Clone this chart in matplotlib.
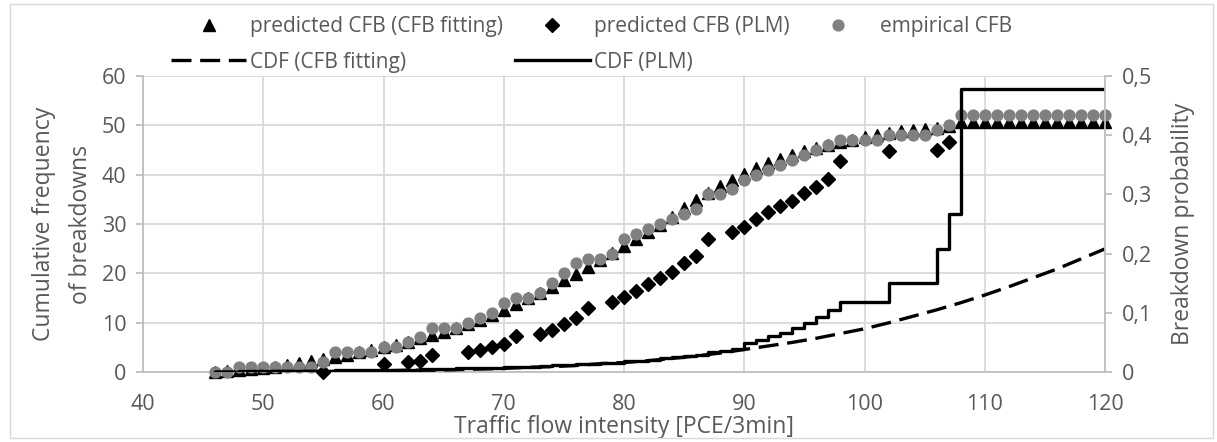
import matplotlib
matplotlib.use("Agg")
import matplotlib.pyplot as plt
from matplotlib.patches import Rectangle
from matplotlib.ticker import FixedLocator, FuncFormatter

# Traffic flow intensity [PCE/3min]
flow = list(range(46, 121))

# empirical cumulative frequency of breakdowns (integer counts)
empirical_cfb = [0, 0, 1, 1, 1, 1, 1, 1, 1, 2, 4, 4, 4, 4, 5, 5, 6, 7, 9, 9,
                 9, 10, 11, 12, 14, 15, 15, 16, 18, 20, 22, 23, 23, 24, 27, 28, 29, 30, 31, 32,
                 33, 36, 36, 37, 39, 40, 41, 42, 43, 44, 45, 46, 47, 47, 47, 47, 48, 48, 48, 48,
                 49, 50, 52, 52, 52, 52, 52, 52, 52, 52, 52, 52, 52, 52, 52]

# predicted cumulative frequency, CFB fitting
predicted_fit = [0.0, 0.2, 0.4, 0.6, 0.8, 1.1, 1.5, 1.9, 2.3, 2.7, 3.1, 3.5, 4.0, 4.5, 5.0, 5.5, 6.1, 6.8, 7.4, 8.1,
                 8.9, 9.7, 10.6, 11.5, 12.6, 13.7, 14.9, 16.0, 17.3, 18.6, 19.9, 21.3, 22.7, 24.1, 25.6, 27.0, 28.4, 29.8, 31.4, 33.2,
                 34.8, 36.2, 37.7, 38.9, 40.2, 41.3, 42.3, 43.1, 43.9, 44.7, 45.4, 46.0, 46.6, 47.1, 47.6, 48.1, 48.5, 48.8, 49.0, 49.2,
                 49.4, 49.8, 50.6, 50.6, 50.6, 50.6, 50.6, 50.6, 50.6, 50.6, 50.6, 50.6, 50.6, 50.6, 50.6]

# predicted cumulative frequency, PLM (only at observed flow values)
plm_flow = [55, 60, 62, 63, 64, 67, 68, 69, 70, 71, 73, 74, 75, 76, 77, 79, 80, 81, 82, 83,
            84, 85, 86, 87, 89, 90, 91, 92, 93, 94, 95, 96, 97, 98, 102, 106, 107]
predicted_plm = [0.0, 1.6, 2.0, 2.2, 3.5, 4.0, 4.5, 5.1, 5.6, 7.2, 7.8, 8.5, 9.7, 10.9, 12.9, 14.1, 15.3, 16.5, 17.8, 19.1,
                 20.3, 22.0, 23.6, 27.0, 28.3, 29.3, 31.0, 32.4, 33.7, 34.7, 36.2, 37.5, 39.1, 42.8, 44.7, 45.1, 46.7]

# CDF of the CFB fitting model
cdf_fit_flow = list(range(46, 121, 2))
cdf_fit = [0.000, 0.000, 0.001, 0.001, 0.001, 0.001, 0.002, 0.002, 0.003, 0.003,
           0.004, 0.005, 0.006, 0.008, 0.009, 0.011, 0.014, 0.016, 0.019, 0.023,
           0.027, 0.032, 0.038, 0.044, 0.050, 0.057, 0.065, 0.073, 0.083, 0.094,
           0.105, 0.117, 0.130, 0.144, 0.159, 0.174, 0.191, 0.208]

# CDF of the PLM (product limit method), step function
cdf_plm = [0.000, 0.000, 0.001, 0.001, 0.001, 0.001, 0.001, 0.002, 0.002, 0.002,
           0.003, 0.003, 0.003, 0.003, 0.004, 0.004, 0.004, 0.005, 0.005, 0.005,
           0.006, 0.006, 0.007, 0.007, 0.008, 0.008, 0.009, 0.010, 0.011, 0.012,
           0.013, 0.014, 0.015, 0.016, 0.018, 0.019, 0.021, 0.023, 0.025, 0.027,
           0.029, 0.034, 0.035, 0.039, 0.049, 0.054, 0.060, 0.066, 0.074, 0.083,
           0.093, 0.104, 0.118, 0.118, 0.118, 0.118, 0.151, 0.151, 0.151, 0.151,
           0.208, 0.267, 0.4775, 0.4775, 0.4775, 0.4775, 0.4775, 0.4775, 0.4775, 0.4775,
           0.4775, 0.4775, 0.4775, 0.4775, 0.4775]

x_ticks = [40, 50, 60, 70, 80, 90, 100, 110, 120]
y_ticks = [0, 10, 20, 30, 40, 50, 60]
p_ticks = [0, 0.1, 0.2, 0.3, 0.4, 0.5]

FONT = ["Open Sans", "DejaVu Sans"]
TEXT_C = "#595959"
GRID_C = "#D9D9D9"
AXIS_C = "#BFBFBF"
TICK_FS = 15.5
LABEL_FS = 16.5
LEGEND_FS = 15

plt.rcParams["font.family"] = FONT

fig = plt.figure(figsize=(12.17, 4.42), dpi=100)
W, H = 1217, 442
ax = fig.add_axes([143 / W, 70 / H, (1105 - 143) / W, (372 - 76) / H])
ax2 = ax.twinx()

# chart frame
fig.patches.append(Rectangle((9.5 / W, 4 / H), 1 - 14 / W, 1 - 8 / H, transform=fig.transFigure,
                             fill=False, edgecolor="#D9D9D9", lw=1.0))

ax.set_xlim(40, 120)
ax.set_ylim(0, 60)
ax2.set_ylim(0, 0.5)

ax.xaxis.set_major_locator(FixedLocator(x_ticks))
ax.yaxis.set_major_locator(FixedLocator(y_ticks))
ax2.yaxis.set_major_locator(FixedLocator(p_ticks))
ax2.yaxis.set_major_formatter(FuncFormatter(lambda v, _: "0" if v == 0 else f"{v:.1f}".replace(".", ",")))

ax.grid(True, color=GRID_C, lw=1.3)
ax.set_axisbelow(True)
ax.spines["top"].set_visible(False)
ax2.spines["top"].set_visible(False)
ax.spines["left"].set_color(AXIS_C)
ax.spines["bottom"].set_color(AXIS_C)
ax.spines["right"].set_visible(False)
ax2.spines["left"].set_visible(False)
ax2.spines["bottom"].set_visible(False)
ax2.spines["right"].set_color(AXIS_C)
for sp in (ax.spines["left"], ax.spines["bottom"], ax2.spines["right"]):
    sp.set_linewidth(1.3)

ax.tick_params(axis="x", length=0, pad=16, labelsize=TICK_FS, labelcolor=TEXT_C)
ax.tick_params(axis="y", length=5, width=1.3, color=AXIS_C, pad=7, labelsize=TICK_FS, labelcolor=TEXT_C)
ax2.tick_params(axis="y", length=5, width=1.3, color=AXIS_C, pad=7, labelsize=TICK_FS, labelcolor=TEXT_C)

ax.plot(flow, predicted_fit, ls="none", marker="^", ms=9, color="black",
        label="predicted CFB (CFB fitting)", clip_on=False, zorder=3)
ax.plot(plm_flow, predicted_plm, ls="none", marker="D", ms=7.2, color="black",
        label="predicted CFB (PLM)", clip_on=False, zorder=3)
ax.plot(flow, empirical_cfb, ls="none", marker="o", ms=7.8, color="#808080",
        label="empirical CFB", clip_on=False, zorder=4)

ax2.plot(cdf_fit_flow, cdf_fit, color="black", lw=2.4, dashes=(6, 2.6),
         label="CDF (CFB fitting)", dash_capstyle="butt")
ax2.plot(flow, cdf_plm, color="black", lw=2.4, drawstyle="steps-post",
         label="CDF (PLM)")

ax.set_xlabel("Traffic flow intensity [PCE/3min]", fontsize=LABEL_FS, color=TEXT_C, labelpad=0)
ax.set_ylabel("Cumulative frequency\nof breakdowns", fontsize=LABEL_FS, color=TEXT_C, labelpad=6,
              linespacing=1.75)
ax2.set_ylabel("Breakdown probability", fontsize=LABEL_FS, color=TEXT_C, labelpad=14)

h1, l1 = ax.get_legend_handles_labels()
h2, l2 = ax2.get_legend_handles_labels()
handles = [h1[0], h2[0], h1[1], h2[1], h1[2]]
labels = [l1[0], l2[0], l1[1], l2[1], l1[2]]
fig.legend(handles, labels, ncol=3, loc="upper left", bbox_to_anchor=(171 / W, 1 - 16 / H),
           frameon=False, fontsize=LEGEND_FS, labelcolor=TEXT_C, handlelength=3.6,
           columnspacing=0.55, handletextpad=0.2, labelspacing=0.7, borderpad=0,
           borderaxespad=0)

fig.savefig("out.png", dpi=100)
